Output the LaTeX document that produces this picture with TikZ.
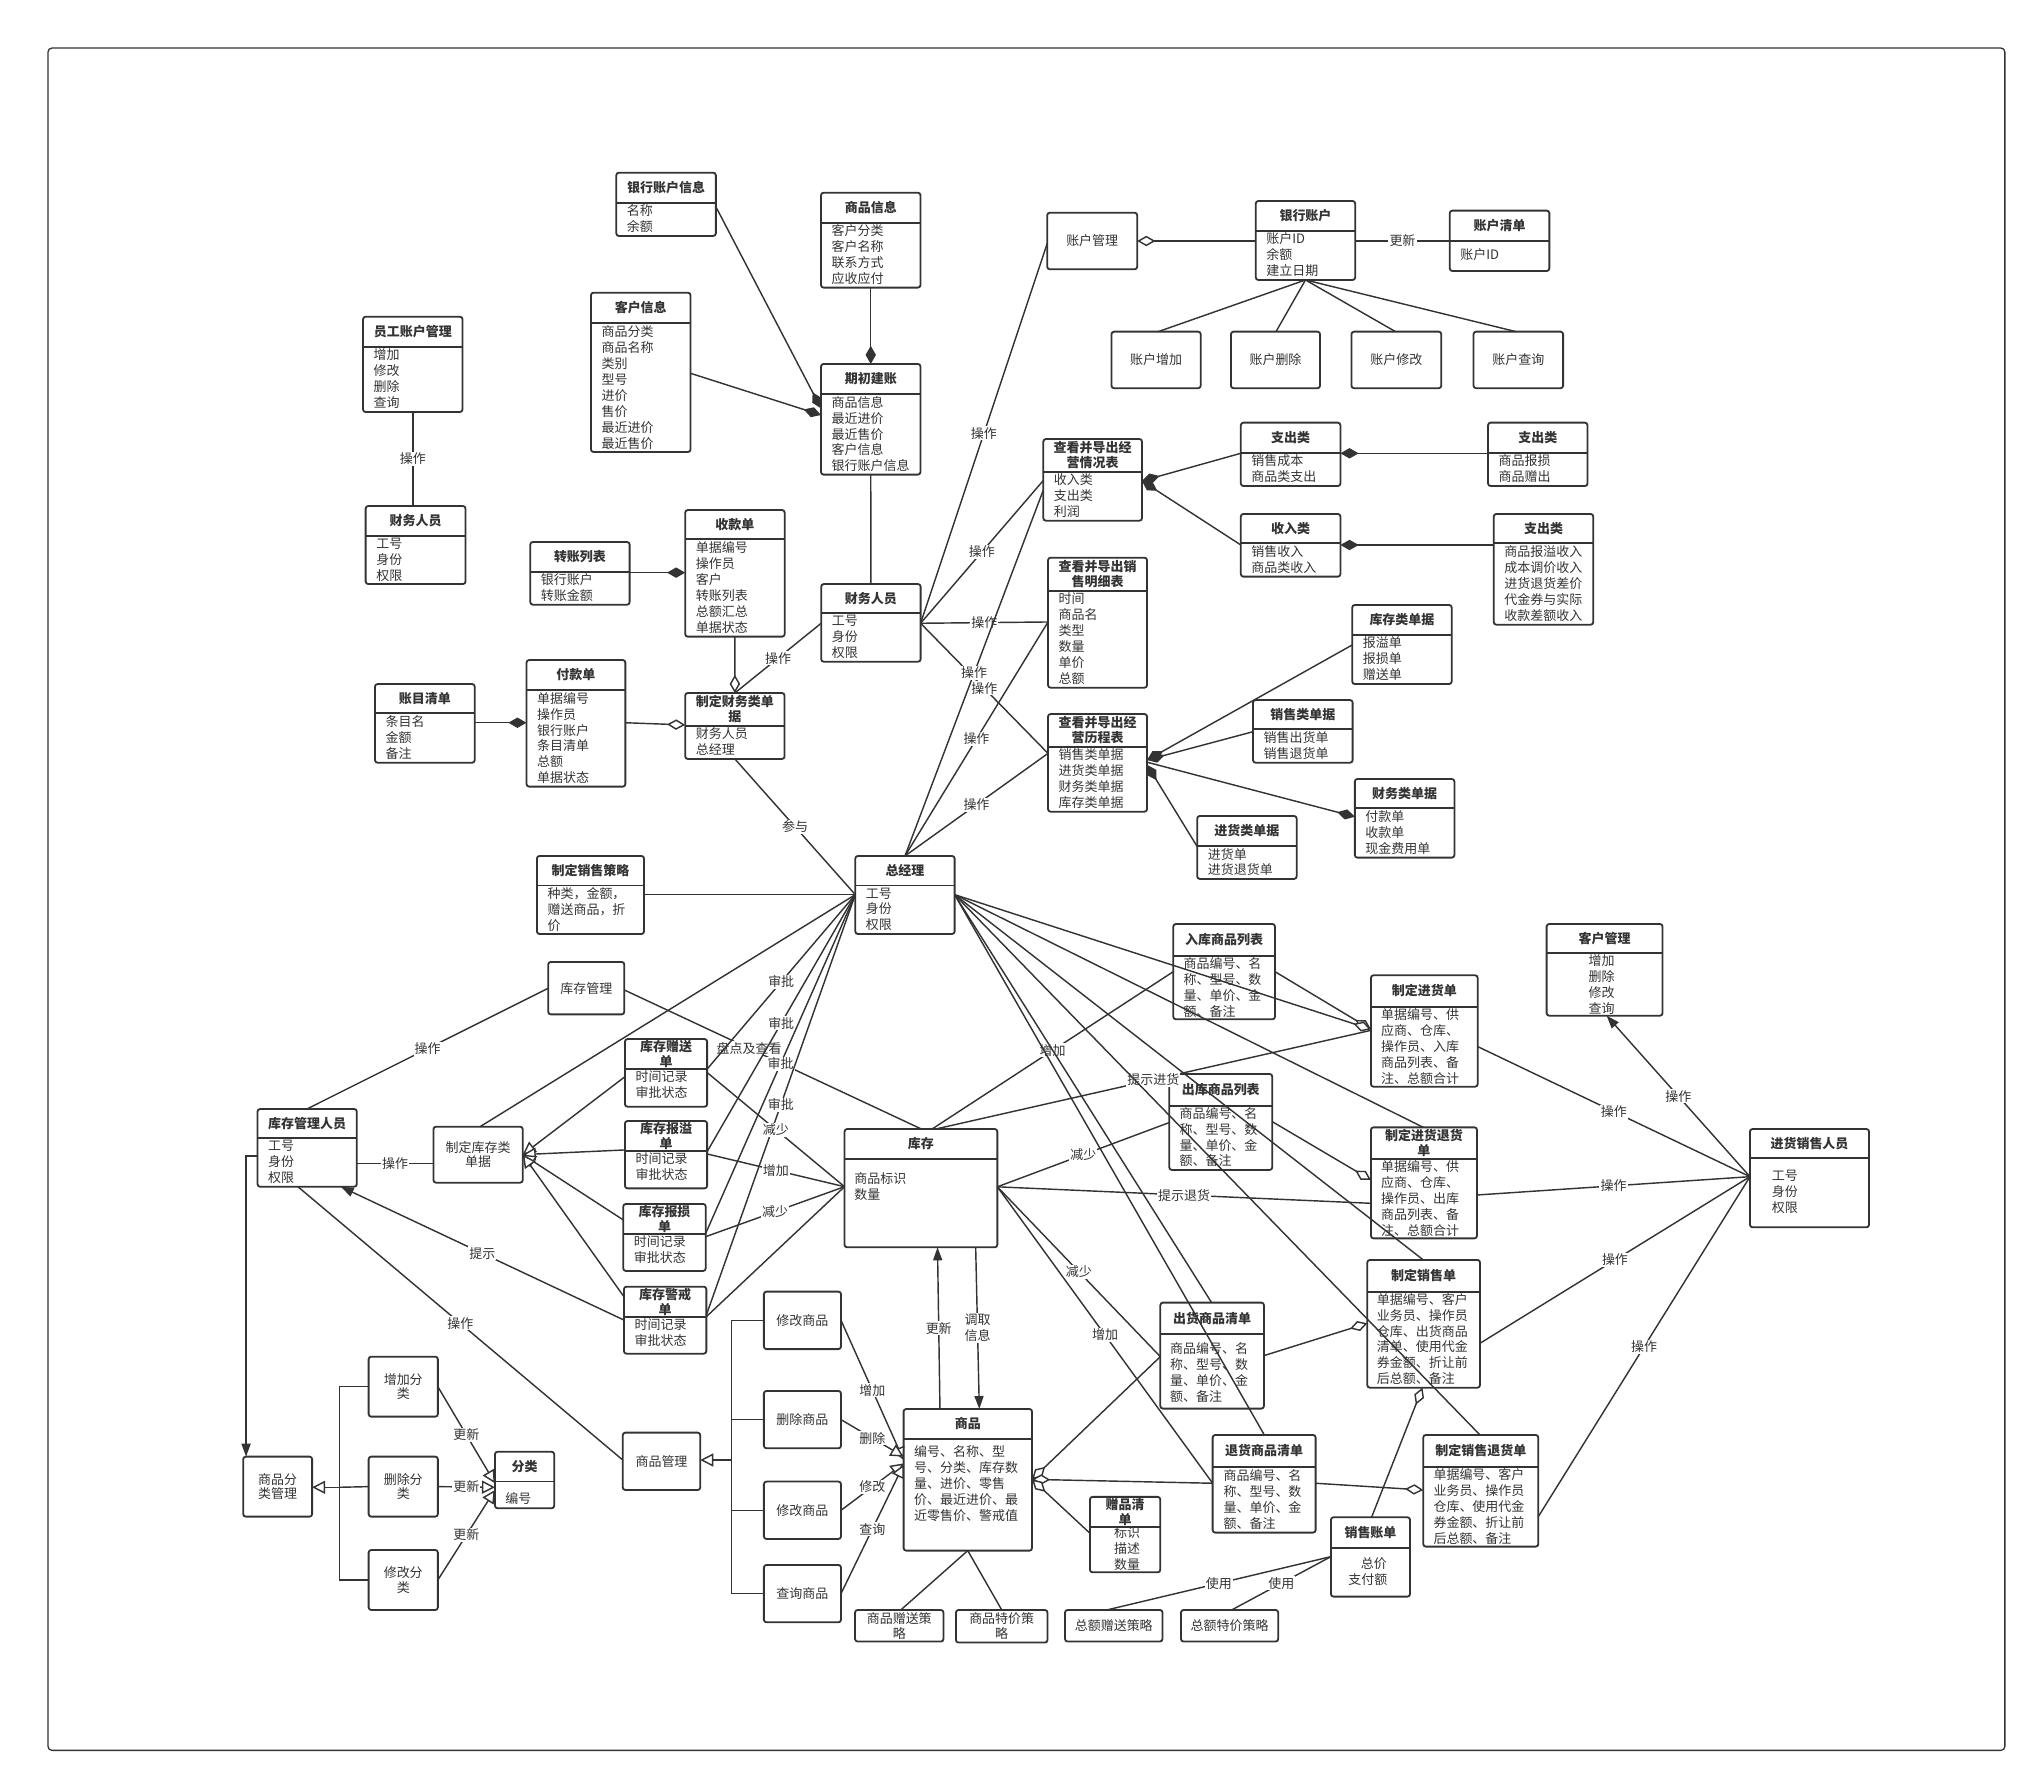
\documentclass[tikz,border=0pt]{standalone}
\usepackage{fontspec}
\setmainfont{Noto Sans CJK SC}
\usetikzlibrary{arrows.meta,calc}
\definecolor{ink}{HTML}{333333}
\newcommand\myfs{\fontsize{10pt}{12.3pt}\selectfont}
\newcommand\myhf{\fontsize{10pt}{11.3pt}\selectfont}
\tikzset{
  ln/.style={draw=ink, line width=1.1pt},
  cbox/.style={draw=ink, line width=1.4pt, rounded corners=2pt, inner sep=0pt, outer sep=0pt},
  pbx/.style={cbox, align=center, font=\myhf, text=ink},
  chead/.style={font=\myhf\bfseries, align=center, inner sep=0pt, text=ink},
  cbody/.style={font=\myfs, align=left, inner sep=0pt, anchor=north west, text=ink},
  cbodyc/.style={font=\myfs, align=center, inner sep=0pt, anchor=north, text=ink},
  lbl/.style={font=\myfs, fill=white, inner sep=0.8pt, text=ink, pos=0.5},
  comp/.style={ln, -{Diamond[fill=ink,length=14pt,width=8pt]}},
  aggr/.style={ln, -{Diamond[open,fill=white,length=14pt,width=8pt]}},
  gen/.style={ln, -{Triangle[open,fill=white,length=10pt,width=10pt]}},
  arr/.style={ln, -{Triangle[length=10pt,width=7pt]}},
}
% name, x1, y1, x2, y2, ydiv, header, body
\newcommand\ucls[8]{%
  \node[cbox, anchor=north west, minimum width={(#4-#2)*1pt}, minimum height={(#5-#3)*1pt}] (#1) at (#2,#3) {};
  \draw[ink, line width=1.4pt] (#2,#6) -- (#4,#6);
  \node[chead] (#1-h) at ({(#2+#4)/2},{(#3+#6)/2}) {#7};
  \node[cbody] (#1-b) at ({#2+8},{#6+1.4}) {#8};
}
% name, x1, y1, x2, y2, text
\newcommand\upbox[6]{%
  \node[pbx, anchor=north west, minimum width={(#4-#2)*1pt}, minimum height={(#5-#3)*1pt}] (#1) at (#2,#3) {#6};
}
\begin{document}
\begin{tikzpicture}[x=1pt,y=-1pt]
\useasboundingbox (0,0) rectangle (1568,1373);
\draw[ink, line width=1pt, rounded corners=3pt] (37,37) rectangle (1544,1348);

% ---------- class boxes ----------
\ucls{ygzh}{279.6}{243.9}{356.2}{317.3}{267}{员工账户管理}{增加\\修改\\删除\\查询}
\ucls{cwa}{281.6}{389.7}{358.5}{449.8}{412.5}{财务人员}{工号\\身份\\权限}
\ucls{yhxx}{474.6}{133}{551.3}{181.7}{156.1}{银行账户信息}{名称\\余额}
\ucls{spxx}{632.3}{148.4}{708.9}{221.5}{171.5}{商品信息}{客户分类\\客户名称\\联系方式\\应收应付}
\ucls{khxx}{455.1}{225.4}{531.8}{348.1}{249}{客户信息}{商品分类\\商品名称\\类别\\型号\\进价\\售价\\最近进价\\最近售价}
\ucls{qcjz}{632.3}{280.3}{708.9}{365.5}{303.4}{期初建账}{商品信息\\最近进价\\最近售价\\客户信息\\银行账户信息}
\ucls{zzlb}{408.4}{417.4}{484.9}{465.7}{440.3}{转账列表}{银行账户\\转账金额}
\ucls{skd}{527.7}{392.8}{604.3}{490.3}{415.3}{收款单}{单据编号\\操作员\\客户\\转账列表\\总额汇总\\单据状态}
\ucls{cwb}{632.4}{449.8}{709}{509.6}{472.3}{财务人员}{工号\\身份\\权限}
\ucls{mzqd}{288.8}{526.8}{365.6}{587.4}{549.3}{账目清单}{条目名\\金额\\备注}
\ucls{fkd}{405.5}{508.3}{481.6}{605.8}{531.4}{付款单}{单据编号\\操作员\\银行账户\\条目清单\\总额\\单据状态}
\ucls{zdcw}{527.7}{533.7}{604.2}{584.5}{558.8}{制定财务类单\\据}{财务人员\\总经理}
\ucls{zjl}{658.7}{659.2}{735.2}{719.3}{682}{总经理}{工号\\身份\\权限}
\ucls{xscl}{413.5}{659.2}{496}{719.3}{682}{制定销售策略}{种类，金额，\\赠送商品，折\\价}
\ucls{yhzh}{967.1}{154.8}{1043.7}{215.6}{177.6}{银行账户}{账户ID\\余额\\建立日期}
\ucls{zhqd}{1116.5}{162.2}{1193.2}{208.7}{185.3}{账户清单}{}
\node[cbody] (zhqd-c) at (1124.5,191.3) {账户ID};
\ucls{jyqk}{803.5}{338.1}{879.5}{401}{363.2}{查看并导出经\\营情况表}{收入类\\支出类\\利润}
\ucls{zca}{955.6}{325.5}{1032.3}{374.3}{348.6}{支出类}{销售成本\\商品类支出}
\ucls{zcb}{1146}{325.5}{1222.6}{374.3}{348.6}{支出类}{商品报损\\商品赠出}
\ucls{srl}{955.6}{395.8}{1032.3}{444.1}{418.4}{收入类}{销售收入\\商品类收入}
\ucls{zcc}{1150.4}{395.8}{1227}{481.1}{418.4}{支出类}{商品报溢收入\\成本调价收入\\进货退货差价\\代金券与实际\\收款差额收入}
\ucls{xsmx}{807.1}{429.5}{883.4}{529.6}{455.1}{查看并导出销\\售明细表}{时间\\商品名\\类型\\数量\\单价\\总额}
\ucls{jylc}{807.1}{549.9}{883.4}{625.1}{575}{查看并导出经\\营历程表}{销售类单据\\进货类单据\\财务类单据\\库存类单据}
\ucls{kcdj}{1041.4}{465.9}{1118}{526.8}{489}{库存类单据}{报溢单\\报损单\\赠送单}
\ucls{xsdj}{965}{539.1}{1041.7}{587.4}{561.7}{销售类单据}{销售出货单\\销售退货单}
\ucls{cwdj}{1043.4}{599.9}{1120.1}{660.5}{622.5}{财务类单据}{付款单\\收款单\\现金费用单}
\ucls{jhdj}{922}{628.4}{998.6}{676.9}{651.5}{进货类单据}{进货单\\进货退货单}
\ucls{kcgr}{198.3}{854.1}{274.8}{913.9}{876.6}{库存管理人员}{工号\\身份\\权限}
\ucls{zsd}{481.3}{800.2}{544.6}{852.3}{823.3}{库存赠送\\单}{时间记录\\审批状态}
\ucls{byd}{481.3}{863.3}{544.6}{915.2}{886.4}{库存报溢\\单}{时间记录\\审批状态}
\ucls{bsd}{480}{927.2}{543.5}{978.8}{950.3}{库存报损\\单}{时间记录\\审批状态}
\ucls{jjd}{480.5}{990.9}{544}{1042.5}{1014}{库存警戒\\单}{时间记录\\审批状态}
\ucls{kc}{650.4}{869.5}{768.1}{960.6}{892.6}{库存}{}
\node[cbody] (kc-c) at (657.8,902.5) {商品标识\\数量};
\ucls{fl}{381.2}{1118}{426.8}{1161.6}{1141}{分类}{}
\node[cbody] (fl-c) at (389,1148.9) {编号};
\ucls{sp}{695.9}{1085.1}{794.8}{1194.2}{1108.2}{商品}{}
\node[cbody] (sp-c) at (703.8,1112.9) {编号、名称、型\\号、分类、库存数\\量、进价、零售\\价、最近进价、最\\近零售价、警戒值};
\ucls{zpqd}{839.4}{1152.8}{893.6}{1210.9}{1176}{赠品清\\单}{}
\node[cbodyc] (zpqd-c) at (868,1175.7) {标识\\描述\\数量};
\ucls{chqd}{893.6}{1003.2}{973.4}{1084.8}{1027.6}{出货商品清单}{}
\node[cbody] (chqd-c) at (901,1033.4) {商品编号、名\\称、型号、数\\量、单价、金\\额、备注};
\ucls{thqd}{933.9}{1105.1}{1013.2}{1180.3}{1129.5}{退货商品清单}{}
\node[cbody] (thqd-c) at (942.1,1131.7) {商品编号、名\\称、型号、数\\量、单价、金\\额、备注};
\ucls{xszd}{1025}{1168.5}{1085.9}{1229.6}{1192.4}{销售账单}{}
\node[font=\myfs, inner sep=0pt, text=ink] (xszd-c1) at (1058,1204) {总价};
\node[font=\myfs, inner sep=0pt, text=ink] (xszd-c2) at (1053.5,1216.8) {支付额};
\ucls{zdxs}{1053}{970.3}{1139.8}{1068.7}{994.7}{制定销售单}{}
\node[cbody] (zdxs-c) at (1060.2,995.6) {单据编号、客户\\业务员、操作员\\仓库、出货商品\\清单、使用代金\\券金额、折让前\\后总额、备注};
\ucls{xsth}{1096.1}{1105.1}{1184.7}{1191.1}{1129.5}{制定销售退货单}{}
\node[cbody] (xsth-c) at (1103.8,1130.9) {单据编号、客户\\业务员、操作员\\仓库、使用代金\\券金额、折让前\\后总额、备注};
\ucls{rksp}{903.6}{711.6}{981.9}{785}{736}{入库商品列表}{}
\node[cbody] (rksp-c) at (911.3,736.9) {商品编号、名\\称、型号、数\\量、单价、金\\额、备注};
\ucls{cksp}{900.5}{827.1}{979.8}{901}{851.5}{出库商品列表}{}
\node[cbody] (cksp-c) at (908.2,852.4) {商品编号、名\\称、型号、数\\量、单价、金\\额、备注};
\ucls{zdjh}{1055.8}{751.1}{1138}{836.9}{775.3}{制定进货单}{}
\node[cbody] (zdjh-c) at (1063.5,776.7) {单据编号、供\\应商、仓库、\\操作员、入库\\商品列表、备\\注、总额合计};
\ucls{jhth}{1055.8}{868.2}{1137.5}{953.7}{892.3}{制定进货退货\\单}{}
\node[cbody] (jhth-c) at (1063.5,893.5) {单据编号、供\\应商、仓库、\\操作员、出库\\商品列表、备\\注、总额合计};
\ucls{khgl}{1191.1}{711.6}{1280.4}{782.2}{734.2}{客户管理}{}
\node[cbodyc] (khgl-c) at (1233.5,734.8) {增加\\删除\\修改\\查询};
\ucls{jxry}{1347.7}{869.5}{1439.4}{945.2}{892}{进货销售人员}{}
\node[cbody] (jxry-c) at (1364.4,901.2) {工号\\身份\\权限};

% ---------- plain boxes ----------
\upbox{zhgl}{806.5}{163.8}{875.8}{207.4}{账户管理}
\upbox{zhzj}{856}{255.4}{924.7}{299}{账户增加}
\upbox{zhsc}{948}{255.4}{1016.6}{299}{账户删除}
\upbox{zhxg}{1040.8}{255.4}{1110}{299}{账户修改}
\upbox{zhcx}{1134.8}{255.4}{1203.8}{299}{账户查询}
\upbox{kcgl}{422.2}{740.8}{480.8}{781.2}{库存管理}
\upbox{zdkc}{333.8}{867.7}{402.6}{910.8}{制定库存类\\单据}
\upbox{flgl}{187.3}{1121.8}{240.4}{1168}{商品分\\类管理}
\upbox{zjfl}{283.9}{1044.8}{337.2}{1091}{增加分\\类}
\upbox{scfl}{283.9}{1121.8}{337.2}{1168}{删除分\\类}
\upbox{xgfl}{283.9}{1193.7}{337.2}{1239.9}{修改分\\类}
\upbox{spgl}{479.6}{1103.3}{539.3}{1147.5}{商品管理}
\upbox{xgspa}{588.3}{994.7}{647.7}{1039}{修改商品}
\upbox{scsp}{588.3}{1071.2}{647.7}{1115.4}{删除商品}
\upbox{xgspb}{588.3}{1141}{647.7}{1185.2}{修改商品}
\upbox{cxsp}{588.3}{1205.2}{647.7}{1249.4}{查询商品}
\upbox{spzs}{658.5}{1239.9}{726.6}{1264.2}{商品赠送策\\略}
\upbox{sptj}{736.2}{1239.9}{806.7}{1265}{商品特价策\\略}
\upbox{zezs}{820.2}{1239.9}{895.3}{1264.2}{总额赠送策略}
\upbox{zetj}{909.5}{1239.9}{984.4}{1264.2}{总额特价策略}

% ---------- connectors: finance ----------
\draw[ln] (ygzh.south) -- node[lbl]{操作} (cwa.north -| ygzh.south);
\draw[comp] (yhxx.east |- 0,159.2) -- (qcjz.west |- 0,314.5);
\draw[comp] (khxx.east |- 0,287.5) -- (qcjz.west |- 0,319.6);
\draw[comp] (spxx.south) -- (qcjz.north);
\draw[ln] (qcjz.south) -- (cwb.north);
\draw[comp] (zzlb.east |- 0,441) -- (skd.west |- 0,441);
\draw[comp] (mzqd.east |- 0,556.6) -- (fkd.west |- 0,556.6);
\draw[aggr] (fkd.east |- 0,556.6) -- (zdcw.west |- 0,558.3);
\draw[aggr] (skd.south) -- (zdcw.north);
\coordinate (cwbL) at (cwb.west |- 0,480);
\draw[ln] (cwbL) -- node[lbl]{操作} (zdcw.north);
\coordinate (zjlL) at (zjl.west |- 0,689);
\draw[ln] (zdcw.south) -- node[lbl]{参与} (zjlL);
\draw[ln] (xscl.east |- zjlL) -- (zjlL);

\draw[aggr] (yhzh.west |- 0,185.6) -- (zhgl.east |- 0,185.6);
\draw[ln] (yhzh.east |- 0,185.6) -- node[lbl]{更新} (zhqd.west |- 0,185.6);
\draw[ln] (yhzh.south) -- (zhzj.north -| 892,0);
\draw[ln] (yhzh.south) -- (zhsc.north -| 982.7,0);
\draw[ln] (yhzh.south) -- (zhxg.north -| 1074.7,0);
\draw[ln] (yhzh.south) -- (zhcx.north -| 1167.5,0);

\coordinate (cwbR) at (cwb.east |- 0,480);
\draw[ln] (cwbR) -- node[lbl]{操作} (zhgl.west |- 0,187.4);
\draw[ln] (cwbR) -- node[lbl]{操作} (jyqk.west |- 0,370);
\draw[ln] (cwbR) -- node[lbl]{操作} (xsmx.west |- 0,479);
\draw[ln] (cwbR) -- node[lbl]{操作} (jylc.west |- 0,580.2);
\draw[ln] (zjl.north) -- node[lbl]{操作} (jyqk.west |- 0,377.4);
\draw[ln] (zjl.north) -- node[lbl]{操作} (xsmx.west |- 0,479);
\draw[ln] (zjl.north) -- node[lbl]{操作} (jylc.west |- 0,580.2);

\draw[comp] (zca.west |- 0,349.1) -- (jyqk.east |- 0,370.4);
\draw[comp] (srl.west |- 0,419.7) -- (jyqk.east |- 0,370.4);
\draw[comp] (zcb.west |- 0,349.1) -- (zca.east |- 0,349.1);
\draw[comp] (zcc.west |- 0,419.7) -- (srl.east |- 0,419.7);
\draw[comp] (kcdj.west |- 0,496.7) -- (jylc.east |- 0,585.3);
\draw[comp] (xsdj.west |- 0,563.5) -- (jylc.east |- 0,585.3);
\draw[comp] (jhdj.west |- 0,652) -- (jylc.east |- 0,589);
\draw[comp] (jylc.east |- 0,587) -- (cwdj.west |- 0,629);

% ---------- connectors: inventory ----------
\draw[ln] (zjlL) -- (zdkc.north -| 369.7,0);
\draw[ln] (kcgl.west |- 0,761.1) -- node[lbl]{操作} (kcgr.north -| 236.3,0);
\draw[ln] (kcgl.east |- 0,762.4) -- node[lbl, pos=0.42]{盘点及查看} (kc.north -| 709.6,0);
\draw[ln] (zjlL) -- node[lbl]{审批} (zsd.east |- 0,823.3);
\draw[ln] (zjlL) -- node[lbl]{审批} (byd.east |- 0,886.9);
\draw[ln] (zjlL) -- node[lbl]{审批} (bsd.east |- 0,949.8);
\draw[ln] (zjlL) -- node[lbl]{审批} (jjd.east |- 0,1012.7);
\coordinate (zdkcR) at (zdkc.east |- 0,889.2);
\draw[gen] (zsd.west |- 0,829.2) -- (zdkcR);
\draw[gen] (byd.west |- 0,885.6) -- (zdkcR);
\draw[gen] (bsd.west |- 0,939.5) -- (zdkcR);
\draw[gen] (jjd.west |- 0,998.6) -- (zdkcR);
\draw[ln] (kcgr.east |- 0,895.9) -- node[lbl]{操作} (zdkc.west |- 0,895.9);
\coordinate (kcL) at (kc.west |- 0,913.9);
\draw[ln] (zsd.east |- 0,826) -- node[lbl]{减少} (kcL);
\draw[ln] (byd.east |- 0,888.7) -- node[lbl]{增加} (kcL);
\draw[ln] (bsd.east |- 0,952.4) -- node[lbl]{减少} (kcL);
\draw[ln] (jjd.east |- 0,1014) -- (kcL);
\draw[arr] (jjd.west |- 0,1016.6) -- node[lbl]{提示} (kcgr.south -| 262.4,0);
\draw[ln] (kcgr.south -| 229.4,0) -- node[lbl]{操作} (spgl.west |- 0,1124.4);
\draw[arr] (kcgr.west |- 0,890.3) -| (flgl.north -| 189.5,0);

\coordinate (busa) at (261.5,1145.4);
\draw[gen] (busa) -- (flgl.east |- busa);
\draw[ln] (zjfl.west) -| (busa) |- (xgfl.west);
\draw[ln] (scfl.west) -- (busa);
\draw[gen] (zjfl.east) -- node[lbl]{更新} (fl.west |- 0,1142.3);
\draw[gen] (scfl.east) -- node[lbl]{更新} (fl.west |- 0,1145.4);
\draw[gen] (xgfl.east) -- node[lbl]{更新} (fl.west |- 0,1147.5);

\coordinate (busb) at (563.5,1124.4);
\draw[gen] (busb) -- (spgl.east |- busb);
\draw[ln] (xgspa.west) -| (busb) |- (cxsp.west);
\draw[ln] (scsp.west) -| (busb);
\draw[ln] (xgspb.west) -| (busb);
\draw[gen] (xgspa.east) -- node[lbl]{增加} (sp.west |- 0,1124.4);
\draw[gen] (scsp.east) -- node[lbl]{删除} (sp.west |- 0,1121.8);
\draw[gen] (xgspb.east) -- node[lbl]{修改} (sp.west |- 0,1127);
\draw[gen] (cxsp.east) -- node[lbl]{查询} (sp.west |- 0,1128);

\draw[arr] (sp.north -| 723.9,0) -- node[lbl]{更新} (kc.south -| 722,0);
\draw[arr] (kc.south -| 751.4,0) -- node[lbl, align=center]{调取\\信息} (sp.north -| 754.2,0);
\draw[ln] (sp.south -| 745.3,0) -- (spzs.north -| 693.7,0);
\draw[ln] (sp.south -| 745.3,0) -- (sptj.north -| 771.5,0);
\coordinate (spR) at (sp.east |- 0,1139.3);
\draw[aggr] (chqd.west |- 0,1044.8) -- (spR);
\draw[aggr] (thqd.west |- 0,1142.3) -- (spR);
\draw[aggr] (zpqd.west |- 0,1180.8) -- (spR);

% ---------- connectors: sales / purchase ----------
\coordinate (xszdL) at (xszd.west |- 0,1198.8);
\draw[ln] (xszdL) -- node[lbl]{使用} (zezs.north -| 852.3,0);
\draw[ln] (xszdL) -- node[lbl]{使用} (zetj.north -| 948.5,0);
\draw[aggr] (xszd.north -| 1056.3,0) -- (zdxs.south -| 1095.5,0);
\draw[aggr] (chqd.east |- 0,1044) -- (zdxs.west |- 0,1019.1);
\draw[aggr] (thqd.east |- 0,1142.3) -- (xsth.west |- 0,1147.5);
\draw[aggr] (rksp.east |- 0,748.3) -- (zdjh.west |- 0,792.7);
\coordinate (zjlR) at (zjl.east |- 0,689);
\draw[aggr] (zjlR) -- (zdjh.west |- 0,792.7);
\draw[aggr] (cksp.east |- 0,863.8) -- (jhth.west |- 0,908.7);
\draw[ln] (kc.north -| 717.8,0) -- node[lbl]{增加} (rksp.west |- 0,748.3);
\draw[ln] (kc.north -| 720.6,0) -- node[lbl]{提示进货} (zdjh.west |- 0,793.5);
\coordinate (kcR) at (kc.east |- 0,914);
\draw[ln] (kcR) -- node[lbl]{减少} (cksp.west |- 0,864.5);
\draw[ln] (kcR) -- node[lbl]{提示退货} (jhth.west |- 0,926.7);
\draw[ln] (kcR) -- node[lbl]{减少} (chqd.west |- 0,1044.8);
\draw[ln] (kcR) -- node[lbl]{增加} (thqd.west |- 0,1142.3);
\draw[ln] (zjlR) -- (jhth.north -| 1096.1,0);
\draw[ln] (zjlR) -- (zdxs.north -| 1096.1,0);
\draw[ln] (zjlR) -- (xsth.north -| 1139.8,0);
\draw[ln] (zjlR) -- (chqd.north -| 933.1,0);
\draw[ln] (zjlR) -- (thqd.north -| 973.7,0);

\coordinate (jxryL) at (jxry.west |- 0,906.2);
\draw[arr] (jxryL) -- node[lbl]{操作} (khgl.south -| 1237.3,0);
\draw[ln] (jxryL) -- node[lbl]{操作} (zdjh.east |- 0,806);
\draw[ln] (jxryL) -- node[lbl]{操作} (jhth.east |- 0,920.3);
\draw[ln] (jxryL) -- node[lbl]{操作} (zdxs.east |- 0,1034.5);
\draw[ln] (jxryL) -- node[lbl]{操作} (xsth.east |- 0,1168);
\end{tikzpicture}
\end{document}
